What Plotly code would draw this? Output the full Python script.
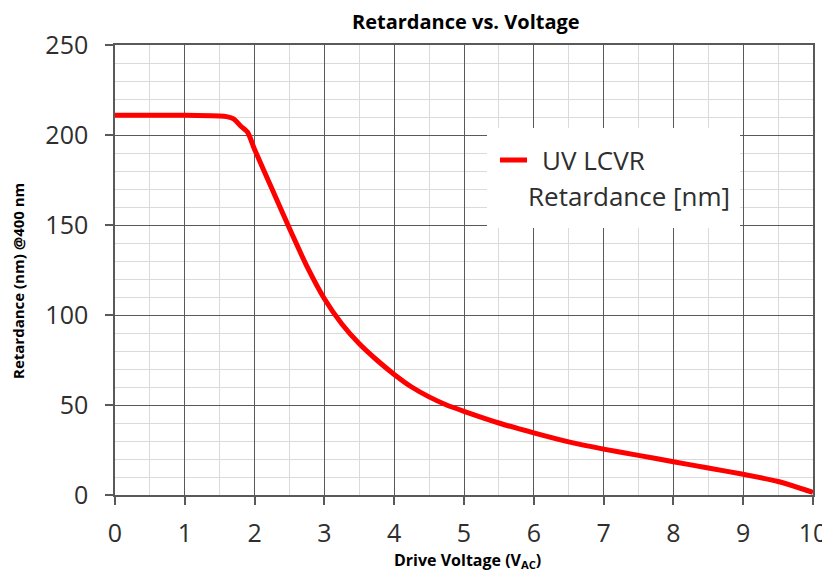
import plotly.graph_objects as go

voltage = [0, 0.5, 1, 1.5, 1.6, 1.7, 1.8, 1.9, 2.0, 2.25, 2.5, 2.75, 3.0, 3.25, 3.5, 3.75,
           4.0, 4.25, 4.5, 4.75, 5.0, 5.5, 6.0, 6.5, 7.0, 7.5, 8.0, 8.5, 9.0, 9.5, 10.0]
retardance = [211, 211, 211, 210.6, 210.2, 209, 205, 201.5, 192, 170, 148, 127, 109, 95, 84, 75,
              67, 60, 54.5, 50, 46.5, 40, 34.5, 29.5, 25.5, 22, 18.5, 15, 11.5, 7.5, 1.5]

x_ticks = list(range(0, 11))
y_ticks = [0, 50, 100, 150, 200, 250]

series_name = "UV LCVR"
series_name2 = "Retardance [nm]"
title = "Retardance vs. Voltage"
x_title = "Drive Voltage (V<sub>AC</sub>)"
y_title = "Retardance (nm) @400 nm"

FONT = "Open Sans"
DARK = "#595959"
TXT = "#2e2e2e"
OFF = 8  # page body margin

fig = go.Figure()
fig.add_trace(go.Scatter(x=voltage, y=retardance, mode="lines",
                         line=dict(color="#ff0000", width=5, shape="spline", smoothing=0.6),
                         showlegend=False))

axis_common = dict(showline=True, mirror=True, linecolor=DARK, linewidth=1.5,
                   showgrid=True, gridcolor=DARK, gridwidth=1.2, zeroline=False,
                   ticks="outside", ticklen=8, tickcolor=DARK, tickwidth=1.5,
                   tickfont=dict(family=FONT, size=25, color=TXT))

fig.update_xaxes(range=[0, 10], tickvals=x_ticks, ticklabelstandoff=7,
                 minor=dict(dtick=0.5, showgrid=True, gridcolor="#dadada", gridwidth=1, ticks=""),
                 **axis_common)
fig.update_yaxes(range=[0, 250], tickvals=y_ticks, ticklabelstandoff=12,
                 minor=dict(dtick=10, showgrid=True, gridcolor="#dadada", gridwidth=1, ticks=""),
                 **axis_common)

def px2paper_x(px):
    return (px - 115) / 698

def px2paper_y(py):
    return (495 - py) / 450

shapes = [
    dict(type="rect", xref="paper", yref="paper",
         x0=px2paper_x(487), x1=px2paper_x(740), y0=px2paper_y(228), y1=px2paper_y(128),
         fillcolor="white", line=dict(width=0), layer="above"),
    dict(type="line", xref="paper", yref="paper",
         x0=px2paper_x(500), x1=px2paper_x(527), y0=px2paper_y(160), y1=px2paper_y(160),
         line=dict(color="#ff0000", width=5), layer="above"),
]

annotations = [
    dict(text=series_name, xref="paper", yref="paper", x=px2paper_x(540), y=px2paper_y(160),
         xanchor="left", yanchor="middle", showarrow=False,
         font=dict(family=FONT, size=26, color=TXT)),
    dict(text=series_name2, xref="paper", yref="paper", x=px2paper_x(526), y=px2paper_y(196),
         xanchor="left", yanchor="middle", showarrow=False,
         font=dict(family=FONT, size=26, color=TXT)),
    dict(text="<b>" + title + "</b>", xref="paper", yref="paper", x=px2paper_x(466), y=px2paper_y(21),
         xanchor="center", yanchor="middle", showarrow=False,
         font=dict(family=FONT, size=20, color="black")),
    dict(text="<b>" + x_title + "</b>", xref="paper", yref="paper", x=px2paper_x(467), y=px2paper_y(560),
         xanchor="center", yanchor="middle", showarrow=False,
         font=dict(family=FONT, size=16, color="black")),
    dict(text="<b>" + y_title + "</b>", xref="paper", yref="paper", x=px2paper_x(18), y=px2paper_y(281),
         xanchor="center", yanchor="middle", showarrow=False, textangle=-90,
         font=dict(family=FONT, size=15, color="black")),
]

fig.update_layout(width=830, height=571,
                  margin=dict(l=115 - OFF, r=17 + OFF, t=45 - OFF, b=76 + OFF, autoexpand=False),
                  paper_bgcolor="white", plot_bgcolor="white",
                  shapes=shapes, annotations=annotations, showlegend=False)

fig.write_html("out.html")
